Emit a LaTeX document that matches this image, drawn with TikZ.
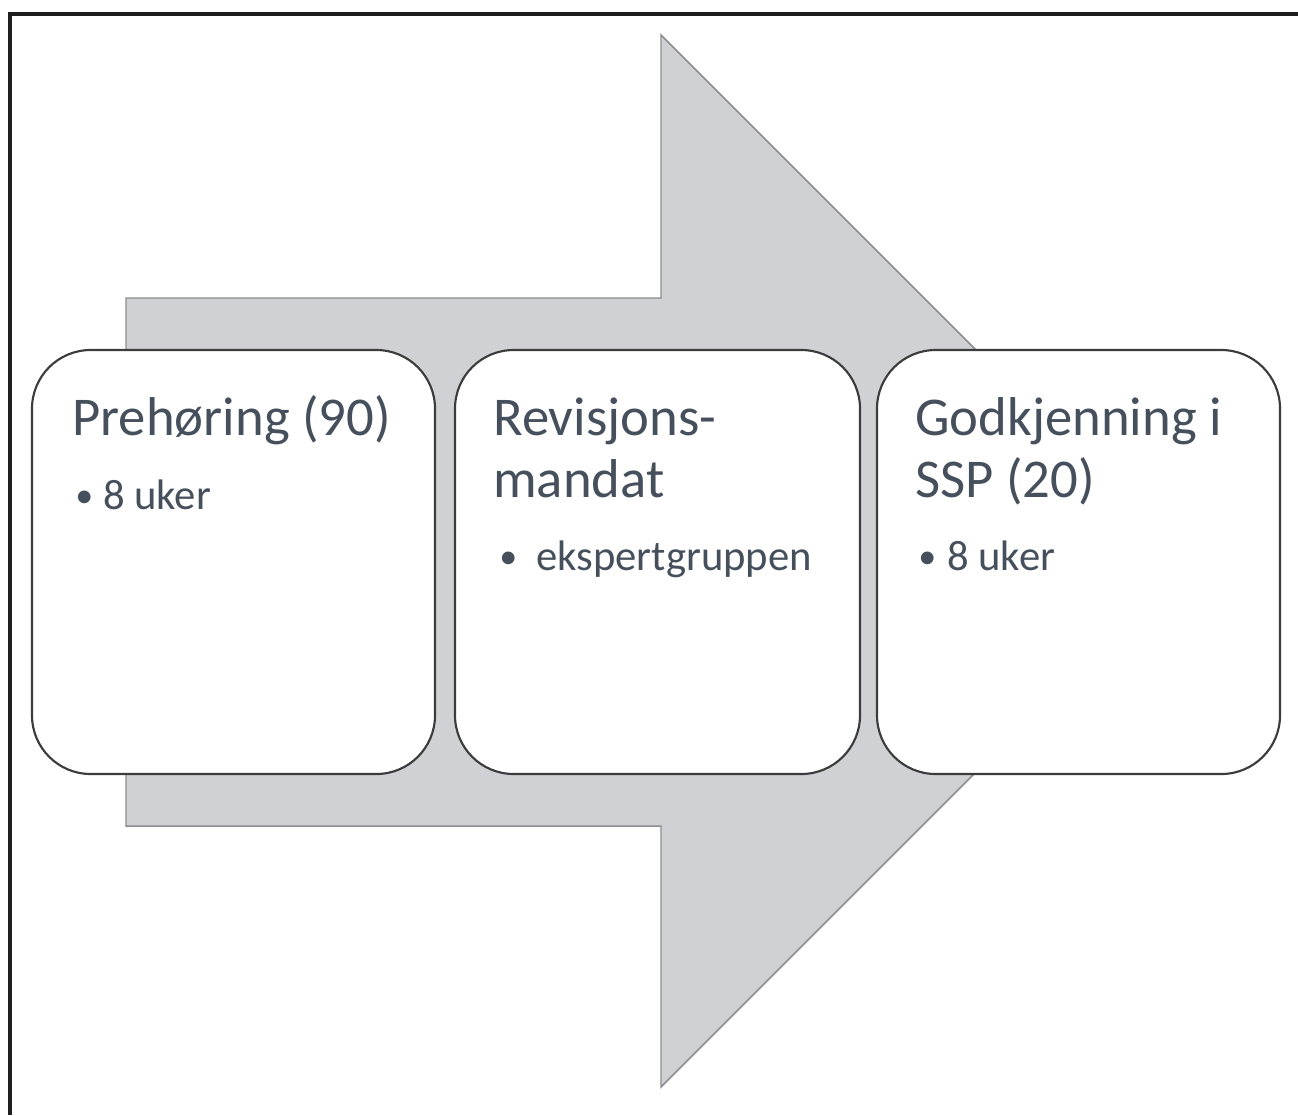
\documentclass[tikz,border=0pt]{standalone}
\usepackage{fontspec}
\setmainfont{Carlito}
\definecolor{txtgray}{HTML}{46505C}
\definecolor{arrowfill}{HTML}{D0D1D5}
\definecolor{arrowline}{HTML}{8C8C90}
\definecolor{boxline}{HTML}{3C3C3C}
\definecolor{framecol}{HTML}{1E1E1E}
\begin{document}
\begin{tikzpicture}[x=0.75pt,y=-0.75pt,
  stagebox/.style={draw=boxline,line width=1.6pt,fill=white,rounded corners=44pt},
  title/.style={anchor=base west,inner sep=0pt,text=txtgray,font=\fontsize{41}{46}\selectfont},
  item/.style={anchor=base west,inner sep=0pt,text=txtgray,font=\fontsize{32}{38}\selectfont},
  dot/.style={anchor=base west,inner sep=0pt,text=txtgray,font=\fontsize{27}{32}\selectfont}]
  \useasboundingbox (0,0) rectangle (1298,1115);
  % outer frame (only top and left edges fall inside the page)
  \draw[framecol,line width=2.6pt] (1298,14) -- (10,14) -- (10,1115);
  % big process arrow behind the stages
  \draw[fill=arrowfill,draw=arrowline,line width=1.1pt,line join=miter]
    (126,298) -- (661,298) -- (661,35) -- (1187,561) -- (661,1087) -- (661,826) -- (126,826) -- cycle;
  % stage boxes
  \draw[stagebox] (32,350) rectangle (435,774);
  \draw[stagebox] (455,350) rectangle (860,774);
  \draw[stagebox] (877,350) rectangle (1280,774);
  % stage 1
  \node[title] (t1) at (72,435) {Prehøring (90)};
  \node[dot] (b1) at (75,507) {•};
  \node[item] (i1) at (103,509) {8 uker};
  % stage 2
  \node[title] (t2a) at (493,435) {Revisjons-};
  \node[title] (t2b) at (493,497) {mandat};
  \node[dot] (b2) at (499,568) {•};
  \node[item] (i2) at (536,570) {ekspertgruppen};
  % stage 3
  \node[title] (t3a) at (915,435) {Godkjenning i};
  \node[title] (t3b) at (915,497) {SSP (20)};
  \node[dot] (b3) at (918,568) {•};
  \node[item] (i3) at (947,570) {8 uker};
\end{tikzpicture}
\end{document}
